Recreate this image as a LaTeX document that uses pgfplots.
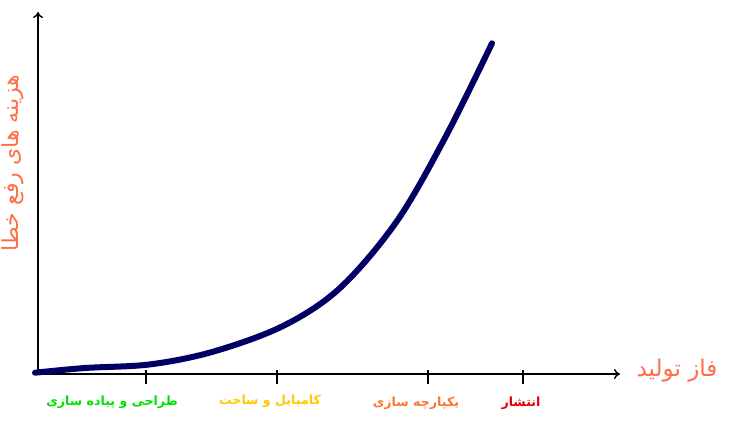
\documentclass[border=0pt]{standalone}
\usepackage{pgfplots}
\pgfplotsset{compat=1.18}
\usetikzlibrary{arrows.meta}
\usepackage{fontspec}
\setmainfont{DejaVu Sans}
\newfontfamily\arabicfont[Script=Arabic]{DejaVu Sans}
\TeXXeTstate=1
\definecolor{navycurve}{RGB}{0,0,100}
\definecolor{coral}{RGB}{255,110,70}
\definecolor{lgreen}{RGB}{0,225,0}
\definecolor{lgold}{RGB}{255,200,0}
\definecolor{lorange}{RGB}{255,115,45}
\definecolor{lred}{RGB}{230,0,0}
\begin{document}
\begin{tikzpicture}[x=1pt,y=1pt]
\useasboundingbox (-38,-52) rectangle (700,374);
\begin{axis}[
  at={(0,0)}, anchor=south west,
  scale only axis, width=582pt, height=362pt,
  xmin=38, xmax=620, ymin=0, ymax=362,
  axis x line=bottom, axis y line=left,
  axis line style={line width=1.4pt, -{To[length=6pt,width=10pt]}},
  xtick={146,277,428,523}, xticklabels={},
  ytick=\empty,
  tick align=center, major tick length=14pt,
  xtick style={line width=1.4pt, black, yshift=-2.5pt},
  clip=false,
]
\addplot[navycurve, line width=6pt, line cap=round, smooth, tension=0.55] coordinates {
(35,1.3) (85,6) (150,9.6) (213,22.3) (283,48) (340,86) (397,153) (446,238) (492,330.7)
};
\node[text=lgreen, font=\arabicfont\bfseries\fontsize{12.6}{14}\selectfont] at (axis cs:112,-28) {\beginR طراحی و پیاده سازی\endR};
\node[text=lgold, font=\arabicfont\bfseries\fontsize{12.6}{14}\selectfont] at (axis cs:270,-27) {\beginR کامپایل و ساخت\endR};
\node[text=lorange, font=\arabicfont\bfseries\fontsize{12.6}{14}\selectfont] at (axis cs:416,-29) {\beginR یکپارچه سازی\endR};
\node[text=lred, font=\arabicfont\bfseries\fontsize{12.6}{14}\selectfont] at (axis cs:521,-29) {\beginR انتشار\endR};
\node[text=coral, font=\arabicfont\fontsize{23}{25}\selectfont] at (axis cs:677,3) {\beginR فاز تولید\endR};
\node[text=coral, rotate=90, font=\arabicfont\fontsize{22}{24}\selectfont] at (axis cs:13,211) {\beginR هزینه های رفع خطا\endR};
\end{axis}
\end{tikzpicture}
\end{document}
